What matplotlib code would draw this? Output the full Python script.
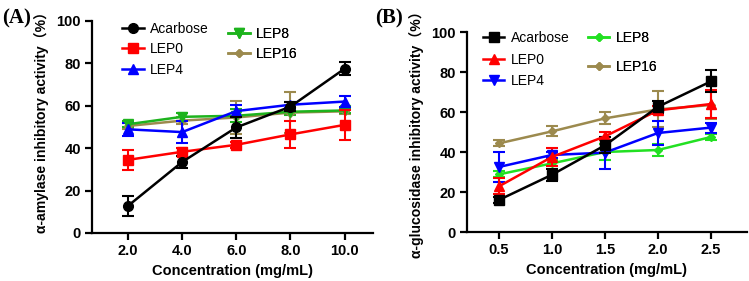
import matplotlib
matplotlib.use("Agg")
import matplotlib.pyplot as plt
from matplotlib.lines import Line2D

# ---------------- data ----------------
conc_a = [2.0, 4.0, 6.0, 8.0, 10.0]
tick_a = ["2.0", "4.0", "6.0", "8.0", "10.0"]
amy_acarbose = [12.8, 33.5, 49.8, 59.6, 77.5]
amy_acarbose_err = [4.7, 3.0, 5.0, 2.0, 3.0]
amy_lep0 = [34.5, 38.3, 41.6, 46.5, 51.0]
amy_lep0_err = [4.8, 2.0, 1.5, 6.5, 7.0]
amy_lep4 = [48.9, 47.6, 57.5, 60.5, 62.0]
amy_lep4_err = [3.0, 5.0, 3.0, 1.5, 2.5]
amy_lep8 = [51.3, 54.8, 55.3, 57.2, 57.8]
amy_lep8_err = [1.5, 2.0, 3.0, 1.5, 1.0]
amy_lep16 = [50.5, 53.0, 54.5, 56.8, 57.4]
amy_lep16_err = [1.5, 1.5, 8.0, 9.5, 1.5]

conc_b = [0.5, 1.0, 1.5, 2.0, 2.5]
tick_b = ["0.5", "1.0", "1.5", "2.0", "2.5"]
glu_acarbose = [16.0, 28.6, 43.3, 62.6, 75.3]
glu_acarbose_err = [1.5, 3.0, 4.0, 3.0, 5.5]
glu_lep0 = [22.8, 37.5, 47.8, 60.8, 64.0]
glu_lep0_err = [4.0, 4.5, 2.0, 2.0, 7.0]
glu_lep4 = [32.5, 38.5, 39.7, 49.5, 52.2]
glu_lep4_err = [7.5, 1.5, 8.0, 6.0, 2.5]
glu_lep8 = [28.8, 34.3, 40.0, 41.0, 47.5]
glu_lep8_err = [1.5, 1.5, 4.0, 3.0, 1.5]
glu_lep16 = [44.3, 50.3, 56.8, 61.3, 63.5]
glu_lep16_err = [1.5, 2.5, 3.0, 9.0, 7.0]

names = ["Acarbose", "LEP0", "LEP4", "LEP8", "LEP16"]

# ---------------- style ----------------
W, H = 749, 281
fig = plt.figure(figsize=(W / 100, H / 100), dpi=100)
FAM = ["Liberation Sans", "Noto Sans CJK SC", "DejaVu Sans"]
plt.rcParams["font.family"] = FAM

def px_axes(left, top, right, bottom):
    return fig.add_axes([left / W, 1 - bottom / H, (right - left) / W, (bottom - top) / H])

def style(ax, xt, xtl, xlim, ylabel, ly):
    ax.set_xlim(*xlim)
    ax.set_ylim(0, 100)
    ax.set_yticks([0, 20, 40, 60, 80, 100])
    ax.set_xticks(xt)
    ax.set_xticklabels(xtl)
    for s in ["top", "right"]:
        ax.spines[s].set_visible(False)
    for s in ["left", "bottom"]:
        ax.spines[s].set_linewidth(1.6)
    ax.tick_params(axis="both", direction="out", width=1.6, length=5, labelsize=10.5, pad=3)
    for lab in ax.get_xticklabels() + ax.get_yticklabels():
        lab.set_fontweight("bold")
    ax.set_xlabel("Concentration (mg/mL)", fontsize=10.5, fontweight="bold", labelpad=4)
    ax.set_ylabel(ylabel, fontsize=10.1, fontweight="bold")
    ax.yaxis.set_label_coords(-0.153, ly)

def series(ax, x, y, e, color, marker, ms, z):
    ax.errorbar(x, y, yerr=e, color=color, marker=marker, markersize=ms, linewidth=1.8,
                elinewidth=1.5, capsize=4, capthick=1.5, zorder=z, clip_on=False)

def handle(color, marker, ms):
    return Line2D([0], [0], color=color, marker=marker, markersize=ms, linewidth=1.8)

def legend(ax, hs, labs, x, y, spacing, add=True):
    lg = ax.legend(hs, labs, loc="upper left", bbox_to_anchor=(x, y), frameon=False,
                   fontsize=10, handlelength=1.55, handletextpad=0.45,
                   labelspacing=spacing, borderaxespad=0, borderpad=0)
    if add:
        ax.add_artist(lg)
    return lg

BLACK, RED, BLUE = "#000000", "#FF0000", "#0000FF"
GREEN_A, GREEN_B, TAN = "#1DB31D", "#22E022", "#9C8A4E"

# ---------------- panel A ----------------
axA = px_axes(92, 21, 373, 233)
specA = [
    (amy_acarbose, amy_acarbose_err, BLACK, "o", 7),
    (amy_lep0, amy_lep0_err, RED, "s", 7),
    (amy_lep4, amy_lep4_err, BLUE, "^", 7),
    (amy_lep8, amy_lep8_err, GREEN_A, "v", 7),
    (amy_lep16, amy_lep16_err, TAN, "D", 4),
]
for i, (y, e, c, m, ms) in enumerate(specA):
    series(axA, conc_a, y, e, c, m, ms, 4 - i * 0.1)
style(axA, conc_a, tick_a, (0.67, 11.05), "α-amylase inhibitory activity（%）", 0.538)

hA = [handle(c, m, ms) for (_, _, c, m, ms) in specA]
legend(axA, hA[:3], names[:3], 0.107, 0.995, 0.45)
legend(axA, hA[3:], names[3:], 0.484, 0.972, 0.45)

# ---------------- panel B ----------------
axB = px_axes(467, 32, 747, 232)
specB = [
    (glu_acarbose, glu_acarbose_err, BLACK, "s", 7),
    (glu_lep0, glu_lep0_err, RED, "^", 7),
    (glu_lep4, glu_lep4_err, BLUE, "v", 7),
    (glu_lep8, glu_lep8_err, GREEN_B, "D", 4),
    (glu_lep16, glu_lep16_err, TAN, "D", 4),
]
for i, (y, e, c, m, ms) in enumerate(specB):
    series(axB, conc_b, y, e, c, m, ms, 4 - i * 0.1)
style(axB, conc_b, tick_b, (0.2, 2.84), "α-glucosidase inhibitory activity（%）", 0.505)

hB = [handle(c, m, ms) for (_, _, c, m, ms) in specB]
legend(axB, hB[:3], names[:3], 0.057, 1.005, 0.55)
legend(axB, hB[3:], names[3:], 0.432, 1.005, 1.05)

# ---------------- panel letters ----------------
fig.text(2 / W, 1 - 18 / H, "(A)", family=["Liberation Serif", "DejaVu Serif"],
         fontsize=15, fontweight="bold", va="center", ha="left")
fig.text(375 / W, 1 - 18 / H, "(B)", family=["Liberation Serif", "DejaVu Serif"],
         fontsize=15, fontweight="bold", va="center", ha="left")

fig.savefig("out.png", dpi=100)
